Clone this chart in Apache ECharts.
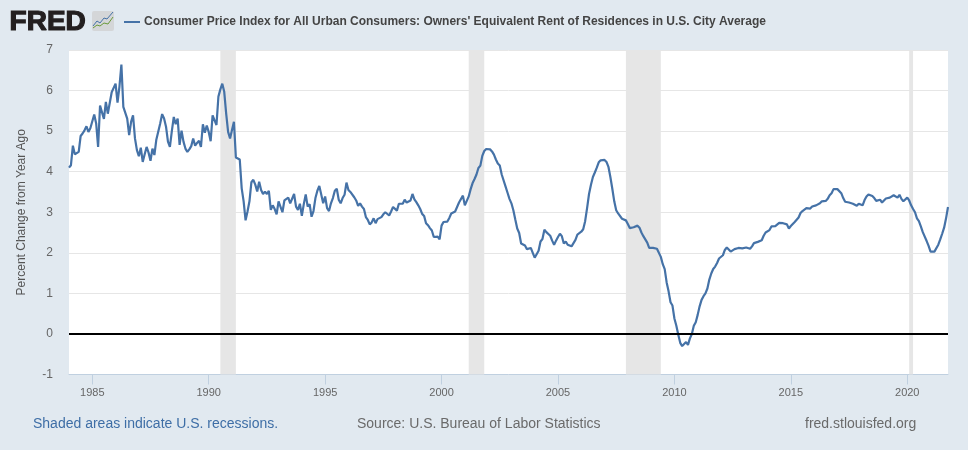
<!DOCTYPE html>
<html><head><meta charset="utf-8">
<style>html,body{margin:0;padding:0;background:#e1e9f0}#c{width:968px;height:450px}</style>
<script src="https://cdn.jsdelivr.net/npm/echarts@6/dist/echarts.min.js"></script>
</head><body><div id="c"></div>
<script>
var seriesName = "Consumer Price Index for All Urban Consumers: Owners' Equivalent Rent of Residences in U.S. City Average";
var startYear = 1984;
var values = [
4.10,4.16,4.64,4.43,4.41,4.49,4.88,4.94,5.02,5.12,4.98,5.07,
5.08,5.41,5.19,4.61,5.63,5.62,5.30,5.72,5.43,5.41,5.96,5.93,
6.17,5.70,6.10,6.64,5.60,5.58,5.31,4.90,5.23,5.39,4.82,4.53,
4.38,4.59,4.24,4.43,4.61,4.47,4.27,4.57,4.41,4.79,4.78,5.19,
5.42,5.31,5.11,4.74,4.61,5.00,5.35,5.17,5.31,4.66,5.01,4.74,
4.57,4.49,4.55,4.63,4.82,4.64,4.71,4.76,4.61,5.17,4.96,5.14,
4.98,4.75,5.39,5.35,5.15,5.85,6.03,6.17,5.97,5.43,4.98,4.82,
5.03,5.23,4.35,4.34,4.30,3.59,3.27,2.80,3.02,3.27,3.74,3.80,
3.68,3.51,3.75,3.55,3.45,3.51,3.45,3.53,3.06,3.17,3.08,2.95,
3.27,3.25,3.00,3.29,3.31,3.36,3.22,3.20,3.45,3.14,3.06,3.21,
2.91,3.20,3.44,3.14,3.20,2.89,3.03,3.35,3.53,3.65,3.65,3.22,
3.39,3.10,3.03,3.22,3.35,3.53,3.58,3.31,3.22,3.35,3.43,3.73,
3.55,3.50,3.48,3.37,3.29,3.16,3.22,3.14,3.08,2.88,2.81,2.70,
2.75,2.85,2.73,2.83,2.83,2.88,2.95,3.00,3.00,2.92,3.02,3.13,
3.13,3.04,3.21,3.22,3.21,3.31,3.24,3.24,3.29,3.45,3.32,3.25,
3.17,3.08,2.96,2.91,2.73,2.68,2.61,2.55,2.39,2.40,2.40,2.33,
2.67,2.76,2.78,2.77,2.86,2.97,2.98,3.02,3.13,3.24,3.24,3.41,
3.17,3.20,3.39,3.57,3.72,3.82,3.93,4.09,4.15,4.39,4.51,4.56,
4.57,4.55,4.50,4.42,4.30,4.20,4.15,3.93,3.90,3.63,3.48,3.33,
3.22,3.05,2.82,2.60,2.49,2.23,2.20,2.18,2.09,2.12,2.12,2.00,
1.88,1.92,2.05,2.28,2.34,2.57,2.51,2.55,2.42,2.30,2.20,2.30,
2.39,2.47,2.41,2.23,2.28,2.20,2.23,2.16,2.24,2.32,2.45,2.48,
2.52,2.58,2.78,3.10,3.45,3.68,3.87,3.98,4.10,4.23,4.28,4.31,
4.29,4.24,4.12,3.87,3.58,3.27,3.05,2.97,2.93,2.84,2.84,2.80,
2.71,2.61,2.60,2.63,2.65,2.67,2.62,2.50,2.41,2.33,2.25,2.12,
2.11,2.12,2.09,2.10,2.14,1.90,1.72,1.60,1.27,1.05,0.78,0.70,
0.38,0.20,-0.02,-0.22,-0.30,-0.25,-0.20,-0.27,-0.11,0.00,0.20,0.29,
0.47,0.68,0.84,0.93,1.00,1.12,1.34,1.49,1.60,1.66,1.75,1.86,
1.86,1.94,2.07,2.13,2.10,2.03,2.02,2.09,2.13,2.12,2.13,2.11,
2.10,2.13,2.09,2.10,2.16,2.24,2.23,2.27,2.25,2.31,2.42,2.50,
2.54,2.56,2.65,2.65,2.66,2.66,2.74,2.70,2.73,2.73,2.70,2.60,
2.66,2.70,2.76,2.79,2.87,2.98,3.03,3.06,3.10,3.10,3.09,3.14,
3.17,3.17,3.16,3.22,3.27,3.26,3.28,3.33,3.42,3.47,3.57,3.60,
3.57,3.54,3.47,3.35,3.26,3.24,3.24,3.27,3.21,3.21,3.16,3.21,
3.22,3.17,3.30,3.39,3.44,3.40,3.40,3.35,3.28,3.26,3.31,3.24,
3.22,3.34,3.35,3.36,3.37,3.42,3.38,3.36,3.43,3.33,3.27,3.30,
3.36,3.29,3.17,3.08,3.00,2.85,2.78,2.65,2.51,2.51,2.29,2.17,
2.03,2.03,2.03,2.06,2.20,2.33,2.47,2.62,2.85,3.13
];
var categories = values.map(function(_, i){
  var y = startYear + Math.floor(i/12), m = i%12 + 1;
  return y + '-' + (m<10?'0':'') + m;
});
var recessions = [['1990-07','1991-03'],['2001-03','2001-11'],['2007-12','2009-06'],['2020-02','2020-04']];
var yTicks = {min:-1,max:7,step:1};
var labelEvery = 5;
var footLeft = 'Shaded areas indicate U.S. recessions.';
var footMid = 'Source: U.S. Bureau of Labor Statistics';
var footRight = 'fred.stlouisfed.org';
var yTitle = 'Percent Change from Year Ago';

var F = '"Liberation Sans", Arial, sans-serif';
function isLabelTick(i){ var c=categories[i]; return c.slice(5)==='01' && (+c.slice(0,4))%labelEvery===0; }
var chart = echarts.init(document.getElementById('c'),null,{renderer:'canvas'});
chart.setOption({
  animation:false,
  backgroundColor:'#e1e9f0',
  textStyle:{fontFamily:F},
  grid:{left:69,right:20,top:50,bottom:75.5,show:true,backgroundColor:'#fff',borderWidth:0},
  legend:{left:119,top:11,itemWidth:16,itemHeight:2,icon:'rect',itemGap:0,
    selectedMode:false,
    textStyle:{fontFamily:F,fontSize:12,fontWeight:'bold',color:'#444',padding:[0,0,0,-1]},
    data:[seriesName]},
  xAxis:{type:'category',boundaryGap:false,data:categories,
    axisLine:{show:true,onZero:false,lineStyle:{color:'#c0d0e0',width:1}},
    axisTick:{show:true,length:10,interval:function(i){return isLabelTick(i);},lineStyle:{color:'#c0d0e0'}},
    axisLabel:{interval:function(i){return isLabelTick(i);},formatter:function(v){return v.slice(0,4);},
      color:'#666',fontSize:11,fontFamily:F,margin:13},
    splitLine:{show:false}},
  yAxis:{type:'value',min:yTicks.min,max:yTicks.max,interval:yTicks.step,
    name:yTitle,nameLocation:'middle',nameGap:41,nameRotate:90,
    nameTextStyle:{color:'#555',fontSize:12,fontFamily:F},
    axisLine:{show:false},axisTick:{show:false},
    axisLabel:{color:'#666',fontSize:12,fontFamily:F,margin:16,padding:[3,0,0,0]},
    splitLine:{show:true,lineStyle:{color:'#e6e6e6',width:1}}},
  series:[{name:seriesName,type:'line',data:values,showSymbol:false,symbol:'none',silent:true,
    lineStyle:{color:'#4572a7',width:2.2},itemStyle:{color:'#4572a7'},
    markArea:{silent:true,itemStyle:{color:'#e6e6e6'},
      data:recessions.map(function(r){return [{xAxis:r[0]},{xAxis:r[1]}];})},
    markLine:{silent:true,symbol:'none',label:{show:false},animation:false,
      lineStyle:{color:'#000',width:2,type:'solid'},data:[{yAxis:0}]}
  }],
  graphic:[
    {type:'text',left:9,top:8,style:{text:'FRED',fontFamily:F,fontSize:28,fontWeight:'bold',fill:'#231f20',stroke:'#231f20',lineWidth:1.2}},
    {type:'rect',shape:{x:92,y:11,width:22,height:20,r:2},style:{fill:'#d4d6d8'}},
    {type:'polyline',shape:{points:[[93,26],[97,21],[100,23],[104,18],[107,19],[113,12]]},style:{stroke:'#4572a7',lineWidth:1,fill:'none'}},
    {type:'polyline',shape:{points:[[93,28],[97,25],[100,26],[104,23],[108,24],[113,17]]},style:{stroke:'#6b9a3c',lineWidth:1,fill:'none'}},
    {type:'text',left:33,top:417,style:{text:footLeft,fontFamily:F,fontSize:14,fill:'#3e6ea6'}},
    {type:'text',left:357,top:417,style:{text:footMid,fontFamily:F,fontSize:14,fill:'#6a6a6a'}},
    {type:'text',left:805,top:417,style:{text:footRight,fontFamily:F,fontSize:14,fill:'#6a6a6a'}}
  ]
});
</script></body></html>
